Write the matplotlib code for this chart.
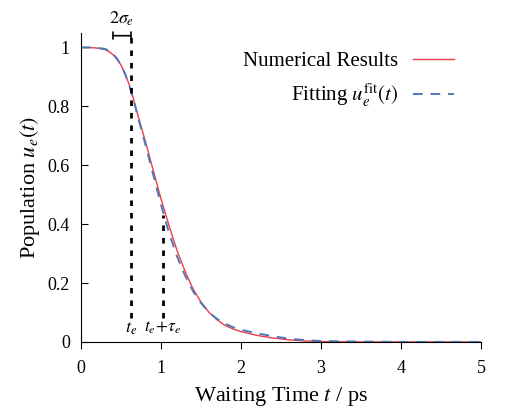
import matplotlib
matplotlib.use("Agg")
import matplotlib.pyplot as plt

plt.rcParams['font.family'] = ['Liberation Serif', 'DejaVu Serif']
plt.rcParams['mathtext.fontset'] = 'stix'

# waiting time (ps) and populations
t = [0, 0.1, 0.2, 0.3, 0.35, 0.4, 0.45, 0.5, 0.55, 0.6, 0.65, 0.7, 0.8, 0.9,
     1.0, 1.1, 1.2, 1.3, 1.4, 1.5, 1.6, 1.7, 1.8, 1.9, 2.0, 2.2, 2.4, 2.6,
     2.8, 3.0, 3.5, 4.0, 4.5, 5.0]
numerical = [1.0, 1.0, 0.998, 0.993, 0.986, 0.975, 0.96, 0.94, 0.91, 0.875,
             0.83, 0.78, 0.685, 0.585, 0.485, 0.395, 0.31, 0.24, 0.18, 0.135,
             0.1, 0.075, 0.056, 0.044, 0.035, 0.022, 0.013, 0.007, 0.003,
             0.001, 0.0, 0.0, 0.0, 0.0]
fitting = [1.0, 1.0, 0.999, 0.995, 0.989, 0.978, 0.962, 0.94, 0.91, 0.873,
           0.827, 0.775, 0.675, 0.57, 0.465, 0.37, 0.29, 0.225, 0.172, 0.132,
           0.1, 0.078, 0.062, 0.05, 0.041, 0.029, 0.019, 0.011, 0.006,
           0.003, 0.001, 0.0, 0.0, 0.0]

x_ticks = [0, 1, 2, 3, 4, 5]
y_ticks = [0, 0.2, 0.4, 0.6, 0.8, 1]
y_ticklabels = ['0', '0.2', '0.4', '0.6', '0.8', '1']

t_e = 0.625
tau_e = 0.4
sigma_e = 0.1125
u_at_tau = 0.43

fig = plt.figure(figsize=(5.1, 4.2), dpi=100)
ax = fig.add_axes([0.159, 0.186, 0.784, 0.736])

ax.plot(t, numerical, color='#f03c46', lw=1.0, label='Numerical Results')
ax.plot(t, fitting, color='#4a7ab8', lw=1.4, dashes=(5, 4),
        label=r'Fitting $u_e^{\mathrm{fit}}(t)$')

# markers for t_e and t_e + tau_e
ax.plot([t_e, t_e], [0.08, 1.04], color='black', lw=2, dashes=(2, 2.5))
ax.plot([t_e + tau_e, t_e + tau_e], [0.08, u_at_tau], color='black', lw=2,
        dashes=(2, 2.5))
ax.annotate('', xy=(t_e - 2 * sigma_e, 1.04), xytext=(t_e, 1.04),
            arrowprops=dict(arrowstyle='|-|,widthA=0.25,widthB=0.25',
                            lw=1.2, color='black', shrinkA=0, shrinkB=0),
            annotation_clip=False)
ax.text(t_e - sigma_e, 1.065, r'$2\sigma_e$', ha='center', va='bottom',
        fontsize=13)
ax.text(t_e, 0.075, r'$t_e$', ha='center', va='top', fontsize=13)
ax.text(t_e + tau_e, 0.075, r'$t_e\!+\!\tau_e$', ha='center', va='top',
        fontsize=12.5)

ax.set_xlim(0, 5)
ax.set_ylim(0, 1.05)
ax.set_xticks(x_ticks)
ax.set_xticklabels([str(v) for v in x_ticks])
ax.set_yticks(y_ticks)
ax.set_yticklabels(y_ticklabels)
ax.tick_params(axis='x', direction='out', length=5, labelsize=13, pad=8)
ax.tick_params(axis='y', direction='in', length=5, labelsize=13, pad=8)
ax.spines['top'].set_visible(False)
ax.spines['right'].set_visible(False)

ax.set_xlabel(r'Waiting Time $t$ / ps', fontsize=16, labelpad=6)
ax.set_ylabel(r'Population $u_e(t)$', fontsize=16)

ax.legend(loc='upper right', frameon=False, markerfirst=False, fontsize=15,
          handlelength=2.0, handletextpad=0.7, bbox_to_anchor=(0.98, 1.0),
          labelspacing=0.5)

fig.savefig('out.png', dpi=100)
